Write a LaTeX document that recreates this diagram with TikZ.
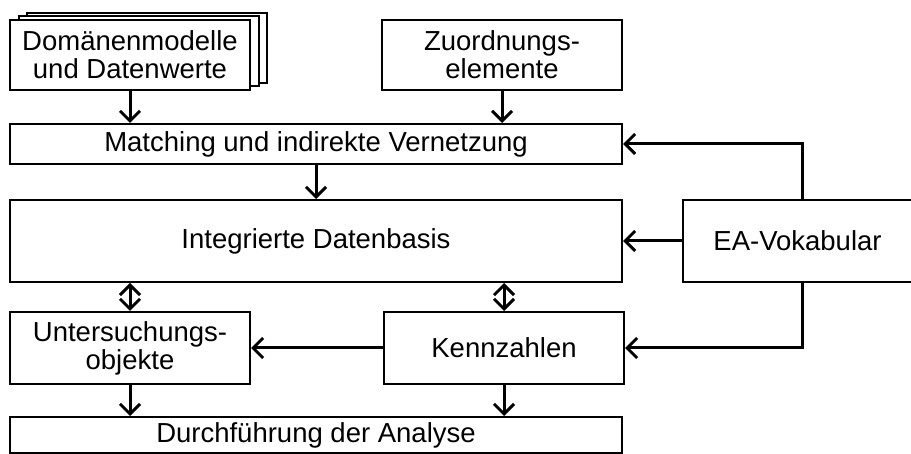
\documentclass[tikz,border=0pt]{standalone}
\usepackage{fontspec}
\setmainfont{Liberation Sans}
\usepackage{tikz}
\usetikzlibrary{positioning,arrows.meta,shadows}

\begin{document}
\begin{tikzpicture}[
  x=1pt, y=-1pt,
  font=\fontsize{27.5}{28}\selectfont,
  box/.style={draw, line width=2pt, fill=white, align=center, inner sep=0pt},
  stack/.style={double copy shadow={shadow xshift=8.5pt, shadow yshift=3.7pt}},
  conn/.style={line width=3pt, -{Straight Barb[length=10pt, width=20pt]}},
  biconn/.style={line width=3pt, {Straight Barb[length=10pt, width=20pt]}-{Straight Barb[length=10pt, width=20pt]}}
]
\useasboundingbox (0,0) rectangle (911,454);

\node[box, stack, minimum width=240pt, minimum height=70pt](dom) at (130,55) {Domänenmodelle\\und Datenwerte};
\node[box, minimum width=240pt, minimum height=70pt](zuord) at (502,55) {Zuordnungs-\\elemente};
\node[box, minimum width=612pt, minimum height=40pt](match) at (316,144) {Matching und indirekte Vernetzung};
\node[box, minimum width=612pt, minimum height=82pt, below=34pt of match](integ) {Integrierte Datenbasis};
\node[box, minimum width=229pt, minimum height=82pt, right=59pt of integ](ea) {EA-Vokabular};
\node[box, minimum width=240pt, minimum height=72pt](unters) at (130,348) {Untersuchungs-\\objekte};
\node[box, minimum width=240pt, minimum height=72pt, right=132pt of unters](kenn) {Kennzahlen};
\node[box, minimum width=612pt, minimum height=36pt](durch) at (316,435) {Durchführung der Analyse};

\draw[conn] (dom) -- (dom |- match.north);
\draw[conn] (zuord) -- (zuord |- match.north);
\draw[conn] (match) -- (integ);
\draw[conn] ([xshift=4.5pt]ea.north) |- (match);
\draw[conn] (ea) -- (integ);
\draw[conn] ([xshift=4.5pt]ea.south) |- (kenn);
\draw[biconn] (integ.south -| unters) -- (unters);
\draw[biconn] (integ.south -| kenn) -- (kenn);
\draw[conn] (kenn) -- (unters);
\draw[conn] (unters) -- (unters |- durch.north);
\draw[conn] (kenn) -- (kenn |- durch.north);

\end{tikzpicture}
\end{document}
